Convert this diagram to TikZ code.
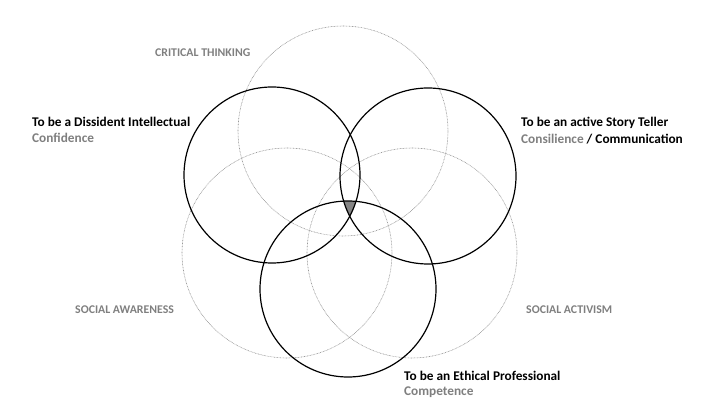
\documentclass[tikz,border=0pt]{standalone}
\usepackage{fontspec}
\setmainfont{Carlito}
\definecolor{textgray}{HTML}{7F7F7F}
\definecolor{ringgray}{HTML}{8E8E8E}
\definecolor{fillgray}{HTML}{858585}

\begin{document}
\begin{tikzpicture}[x=1pt,y=-1pt,
  ring/.style={black,line width=1.2pt},
  halo/.style={ringgray,line width=0.6pt,dash pattern=on 0.7pt off 0.8pt},
  title/.style={anchor=west,inner sep=0pt,font=\bfseries\fontsize{13.3}{15}\selectfont},
  subtitle/.style={title,text=textgray},
  theme/.style={anchor=west,inner sep=0pt,text=textgray,font=\bfseries\fontsize{11.8}{13}\selectfont}]

  \useasboundingbox (0,0) rectangle (717,403);

  % 圆心:三个实线圆
  \coordinate (cDissident) at (272,175);
  \coordinate (cStory)     at (428,176);
  \coordinate (cEthical)   at (348,289);
  % 圆心:三个虚线圆
  \coordinate (cCritical)  at (343,131);
  \coordinate (cAwareness) at (287,253);
  \coordinate (cActivism)  at (412,253);

  % 虚线圆(半径 105)
  \draw[halo] (cCritical)  circle (105);
  \draw[halo] (cAwareness) circle (105);
  \draw[halo] (cActivism)  circle (105);

  % 三个实线圆的公共部分:灰色填充
  \begin{scope}
    \clip (cDissident) circle (88);
    \clip (cStory) circle (88);
    \fill[fillgray] (cEthical) circle (88);
  \end{scope}

  % 实线圆(半径 88)
  \draw[ring] (cDissident) circle (88);
  \draw[ring] (cStory)     circle (88);
  \draw[ring] (cEthical)   circle (88);

  % 左上:Dissident Intellectual
  \node[title]    (dissident)  at (32,122) {To be a Dissident Intellectual};
  \node[subtitle] (confidence) at (32,138) {Confidence};
  % 右上:Story Teller
  \node[title]    (story)       at (521,123) {To be an active Story Teller};
  \node[title]    (consilience) at (521,139) {\textcolor{textgray}{Consilience} / Communication};
  % 下:Ethical Professional
  \node[title]    (ethical)    at (404,376) {To be an Ethical Professional};
  \node[subtitle] (competence) at (404,392) {Competence};

  % 虚线圆的标签
  \node[theme] (critical)  at (155,53)  {CRITICAL THINKING};
  \node[theme] (awareness) at (75,310)  {SOCIAL AWARENESS};
  \node[theme] (activism)  at (526,310) {SOCIAL ACTIVISM};

\end{tikzpicture}
\end{document}
